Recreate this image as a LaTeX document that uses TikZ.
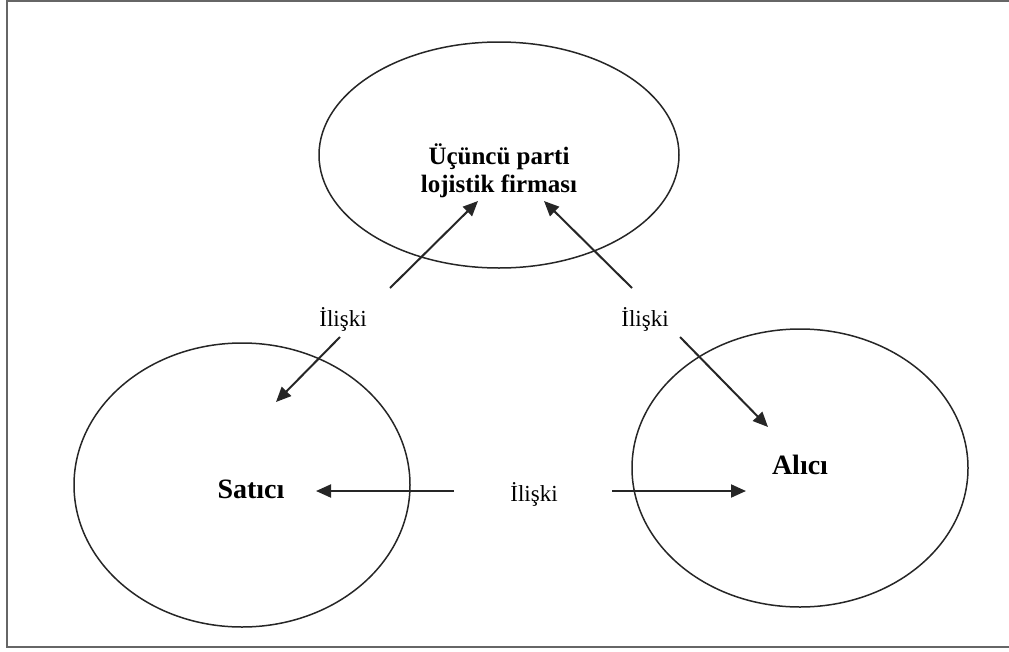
\documentclass[tikz,border=0pt]{standalone}
\usepackage{fontspec}
\setmainfont{Liberation Serif}
\usetikzlibrary{shapes.geometric,arrows.meta}
\begin{document}
\begin{tikzpicture}[x=1pt,y=-1pt,
  frame/.style={draw=black!60,line width=2pt},
  party/.style={draw=black!85,line width=1.5pt,ellipse,inner sep=0pt},
  rel/.style={draw=black!85,line width=2pt,-{Triangle[length=15pt,width=13pt]}},
  lbl/.style={font=\fontsize{23}{26}\selectfont,inner sep=1pt},
  bold/.style={font=\fontsize{26}{29}\bfseries\selectfont,align=center}]
\useasboundingbox (0,0) rectangle (1009,651);
\draw[frame] (1012,1) -- (7,1) -- (7,647) -- (1012,647);
\node[party,minimum width=360pt,minimum height=226pt] (tpl) at (499,155) {};
\node[party,minimum width=336pt,minimum height=284pt] (sat) at (242,485) {};
\node[party,minimum width=336pt,minimum height=278pt] (ali) at (800,468) {};
\node[bold,font=\fontsize{25}{28}\bfseries\selectfont] (tpltext) at (499,171) {Üçüncü parti\\lojistik firması};
\node[bold,font=\fontsize{28}{30}\bfseries\selectfont] (sattext) at (251,489) {Satıcı};
\node[bold,font=\fontsize{28}{30}\bfseries\selectfont] (alitext) at (800,465) {Alıcı};
\node[lbl] (l1) at (343,319) {İlişki};
\node[lbl] (l2) at (645,319) {İlişki};
\node[lbl] (l3) at (534,494) {İlişki};
\coordinate (a1s) at (390,288); \coordinate (a1e) at (478,201);
\coordinate (a2s) at (632,288); \coordinate (a2e) at (544,201);
\coordinate (a3s) at (340,337); \coordinate (a3e) at (276,402);
\coordinate (a4s) at (680,337); \coordinate (a4e) at (768,427);
\coordinate (a5s) at (454,491); \coordinate (a5e) at (316,491);
\coordinate (a6s) at (612,491); \coordinate (a6e) at (746,491);
\draw[rel] (a1s) -- (a1e);
\draw[rel] (a2s) -- (a2e);
\draw[rel] (a3s) -- (a3e);
\draw[rel] (a4s) -- (a4e);
\draw[rel] (a5s) -- (a5e);
\draw[rel] (a6s) -- (a6e);
\end{tikzpicture}
\end{document}
